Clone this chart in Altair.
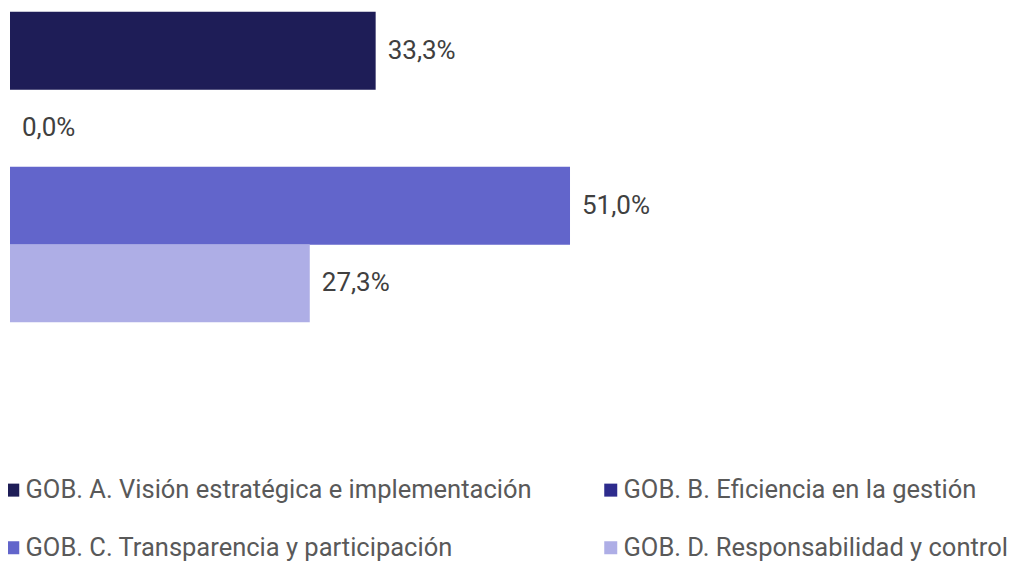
import altair as alt
import pandas as pd

categories = [
    "GOB. A. Visión estratégica e implementación",
    "GOB. B. Eficiencia en la gestión",
    "GOB. C. Transparencia y participación",
    "GOB. D. Responsabilidad y control",
]
values = [33.3, 0.0, 51.0, 27.3]
colors = ["#1e1d57", "#2d2b8d", "#6265cb", "#aeaee6"]

labels = [f"{v:.1f}".replace(".", ",") + "%" for v in values]
df = pd.DataFrame({"cat": categories, "val": values, "label": labels})

FONT = "Roboto"

x = alt.X("val:Q", scale=alt.Scale(domain=[0, 91.07], nice=False, zero=True), axis=None)
y = alt.Y("cat:N", sort=categories, scale=alt.Scale(paddingInner=0, paddingOuter=0), axis=None)

bars = alt.Chart(df).mark_bar(size=78).encode(
    x=x,
    y=y,
    color=alt.Color(
        "cat:N",
        sort=categories,
        scale=alt.Scale(domain=categories, range=colors),
        legend=alt.Legend(
            title=None,
            orient="none",
            direction="horizontal",
            legendX=-10,
            legendY=465,
            columns=2,
            columnPadding=66,
            rowPadding=31,
            symbolType="square",
            symbolSize=169,
            symbolStrokeWidth=0,
            symbolOpacity=1,
            labelFont=FONT,
            labelFontSize=25.5,
            labelColor="#595959",
            labelOffset=0,
            labelLimit=0,
            padding=0,
        ),
    ),
)

text = alt.Chart(df).mark_text(
    align="left", baseline="middle", dx=12, font=FONT, fontSize=26, color="#404040"
).encode(x=x, y=y, text="label:N")

chart = (
    (bars + text)
    .properties(
        width=1000,
        height=310,
        padding={"left": 2, "top": 4, "right": 3, "bottom": 240},
        autosize=alt.AutoSizeParams(type="none"),
        background="white",
    )
    .configure_view(strokeWidth=0, stroke=None)
)

chart.save("out.html", embed_options={"renderer": "svg", "actions": False})
